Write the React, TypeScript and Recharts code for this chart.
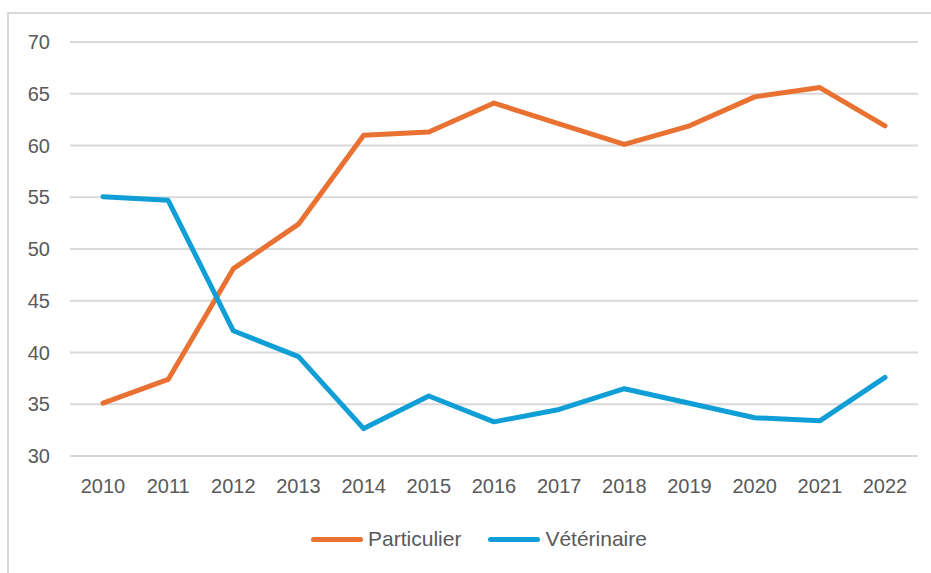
import React from "react";
import { LineChart, Line, XAxis, YAxis, CartesianGrid, Legend } from "recharts";

const years = ["2010", "2011", "2012", "2013", "2014", "2015", "2016", "2017", "2018", "2019", "2020", "2021", "2022"];
const particulier = [35.1, 37.4, 48.1, 52.4, 61.0, 61.3, 64.1, 62.1, 60.1, 61.9, 64.7, 65.6, 61.9];
const veterinaire = [55.05, 54.7, 42.1, 39.6, 32.65, 35.8, 33.3, 34.5, 36.5, 35.1, 33.7, 33.4, 37.6];
const yTicks = [30, 35, 40, 45, 50, 55, 60, 65, 70];

const data = years.map((year, i) => ({
  year,
  Particulier: particulier[i],
  "Vétérinaire": veterinaire[i],
}));

const FONT = '"Liberation Sans", Arial, sans-serif';
const tick = { fontSize: 20, fill: "#595959", fontFamily: FONT };

function LegendContent(props: any) {
  const items = props.payload || [];
  return (
    <div style={{ display: "flex", justifyContent: "center", alignItems: "center", gap: 27, height: 40, paddingLeft: 40, fontFamily: FONT }}>
      {items.map((it: any) => (
        <div key={it.value} style={{ display: "flex", alignItems: "center", gap: 5 }}>
          <span style={{ width: 52, height: 5, borderRadius: 3, background: it.color, display: "inline-block" }} />
          <span style={{ fontSize: 21, color: "#595959" }}>{it.value}</span>
        </div>
      ))}
    </div>
  );
}

export default function App() {
  return (
    <div style={{ position: "absolute", left: 0, top: 0, width: 931, height: 573, background: "#fff", overflow: "hidden" }}>
      <div style={{ position: "absolute", left: 7, top: 12, width: 960, height: 600, border: "2px solid #d9d9d9" }} />
      <div style={{ position: "absolute", left: 0, top: 0 }}>
        <LineChart width={931} height={573} data={data} margin={{ top: 42, right: 13, left: 0, bottom: 14 }}>
          <CartesianGrid vertical={false} stroke="#d9d9d9" strokeWidth={2} />
          <XAxis
            dataKey="year"
            axisLine={false}
            tickLine={false}
            tick={tick}
            tickMargin={17}
            height={63}
            interval={0}
            padding={{ left: 33, right: 33 }}
          />
          <YAxis
            domain={[30, 70]}
            ticks={yTicks}
            axisLine={false}
            tickLine={false}
            tick={tick}
            tickMargin={14}
            width={70}
            interval={0}
          />
          <Legend verticalAlign="bottom" height={40} content={LegendContent} />
          <Line type="linear" dataKey="Particulier" stroke="#E97132" strokeWidth={5} dot={false} strokeLinecap="round" strokeLinejoin="round" isAnimationActive={false} />
          <Line type="linear" dataKey="Vétérinaire" stroke="#0F9ED5" strokeWidth={5} dot={false} strokeLinecap="round" strokeLinejoin="round" isAnimationActive={false} />
        </LineChart>
      </div>
    </div>
  );
}
